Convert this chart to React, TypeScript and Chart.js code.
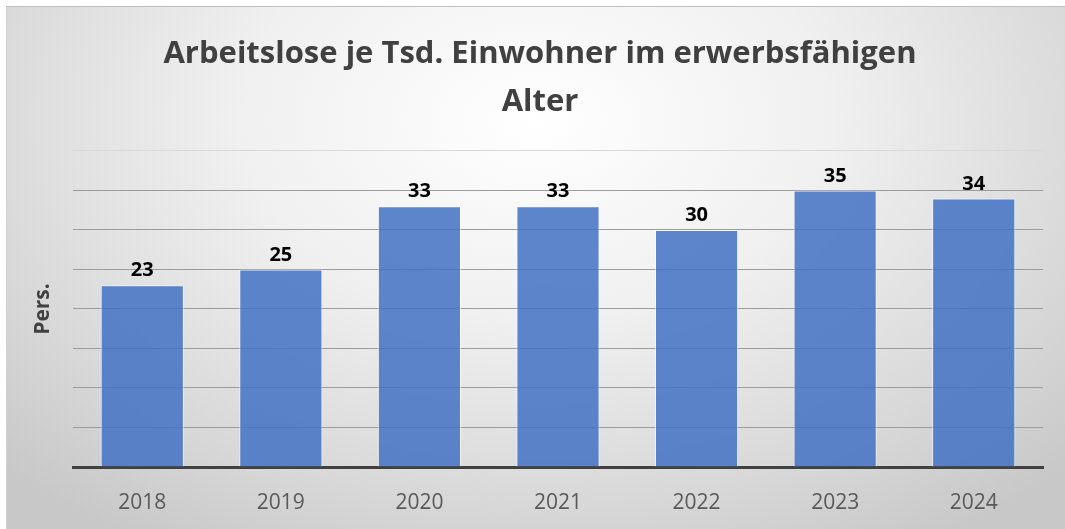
import React, { useEffect, useRef } from "react";
import { Chart, registerables } from "chart.js";

Chart.register(...registerables);

const categories: string[] = ["2018", "2019", "2020", "2021", "2022", "2023", "2024"];
const values: number[] = [23, 25, 33, 33, 30, 35, 34];
const titleLines: string[] = ["Arbeitslose je Tsd. Einwohner im erwerbsfähigen", "Alter"];
const yAxisTitle = "Pers.";
const yMin = 0;
const yMax = 40;
const yStep = 5;

const FONT = "'Open Sans', 'Noto Sans', sans-serif";
const W = 1059;
const H = 523;

const valueLabels = {
  id: "valueLabels",
  afterDatasetsDraw(chart: any) {
    const ctx = chart.ctx;
    const meta = chart.getDatasetMeta(0);
    ctx.save();
    ctx.font = `bold 20px ${FONT}`;
    ctx.fillStyle = "#000000";
    ctx.textAlign = "center";
    ctx.textBaseline = "middle";
    meta.data.forEach((bar: any, i: number) => {
      const v = chart.data.datasets[0].data[i];
      ctx.fillText(String(v), bar.x, bar.y - 14.5);
    });
    ctx.restore();
  },
};

export default function App() {
  const ref = useRef<HTMLCanvasElement | null>(null);
  useEffect(() => {
    if (!ref.current) return;
    const chart = new Chart(ref.current, {
      type: "bar",
      data: {
        labels: categories,
        datasets: [
          {
            data: values,
            backgroundColor: "rgba(68,114,196,0.86)",
            borderColor: "rgba(255,255,255,0.6)",
            borderWidth: 1,
            barPercentage: 0.6,
            categoryPercentage: 1,
          },
        ],
      },
      options: {
        animation: false,
        responsive: false,
        maintainAspectRatio: false,
        devicePixelRatio: 1,
        layout: { padding: { left: 9, right: 0, top: 0, bottom: 0 } },
        plugins: {
          legend: { display: false },
          tooltip: { enabled: false },
          title: {
            display: true,
            text: titleLines,
            color: "#404040",
            font: { family: FONT, size: 31, weight: "bold", lineHeight: 1.548 },
            padding: { top: 24, bottom: 25 },
          },
        },
        scales: {
          x: {
            grid: { display: false, drawTicks: false },
            border: { display: true, color: "#404040", width: 3 },
            ticks: {
              color: "#595959",
              font: { family: FONT, size: 21 },
              padding: 23,
            },
            afterFit: (s: any) => {
              s.height = 62;
            },
          },
          y: {
            min: yMin,
            max: yMax,
            ticks: { display: false, stepSize: yStep },
            border: { display: false },
            grid: {
              drawTicks: false,
              color: (c: any) => (c.tick && c.tick.value === yMax ? "#d9d9d9" : "#9c9c9c"),
              lineWidth: 1,
            },
            title: {
              display: true,
              text: yAxisTitle,
              color: "#404040",
              font: { family: FONT, size: 21, weight: "bold" },
              padding: { top: 15.4, bottom: 17.4 },
            },
          },
          yRight: {
            type: "linear",
            position: "right",
            display: true,
            min: yMin,
            max: yMax,
            ticks: { display: false },
            grid: { display: false, drawTicks: false },
            border: { display: false },
            afterFit: (s: any) => {
              s.width = 22;
            },
          },
        },
      },
      plugins: [valueLabels],
    });
    return () => chart.destroy();
  }, []);

  return (
    <div
      style={{
        position: "absolute",
        left: 6,
        top: 6,
        width: W,
        height: H,
        boxShadow: "inset 0 1px 0 #bfbfbf, inset 1px 0 0 #d0d0d0",
        background:
          "radial-gradient(ellipse 70% 95% at 50% 22%, #ffffff 0%, #f0f0f0 40%, #d6d6d6 80%, #c8c8c8 100%)",
      }}
    >
      <canvas ref={ref} width={W} height={H} style={{ display: "block" }} />
    </div>
  );
}
